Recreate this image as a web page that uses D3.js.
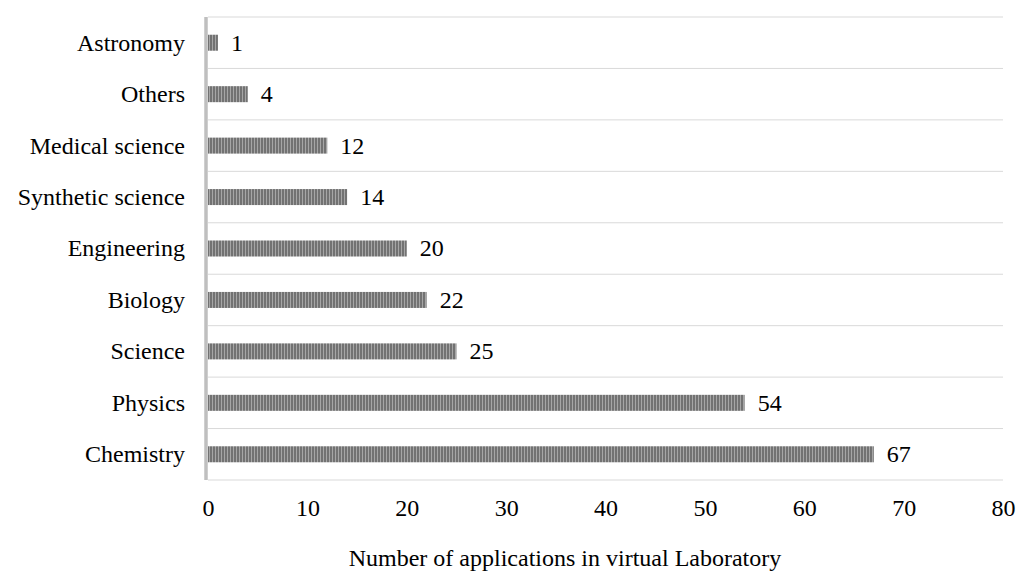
<!DOCTYPE html>
<html>
<head>
<meta charset="utf-8">
<script src="https://cdn.jsdelivr.net/npm/d3@7"></script>
<style>
body { margin: 0; background: #fff; }
text { font-family: "Liberation Serif", "DejaVu Serif", serif; fill: #000; }
</style>
</head>
<body>
<script>
//chart data
var categories = ["Astronomy", "Others", "Medical science", "Synthetic science", "Engineering", "Biology", "Science", "Physics", "Chemistry"];
var values = [1, 4, 12, 14, 20, 22, 25, 54, 67];
var xTicks = [0, 10, 20, 30, 40, 50, 60, 70, 80];
var xTitle = "Number of applications in virtual Laboratory";

var width = 1016, height = 571;
var plotLeft = 208, plotRight = 1003, plotTop = 17, plotBottom = 480;
var fontSize = 24;

var svg = d3.select("body").append("svg")
	.attr("width", width)
	.attr("height", height);

//striped fill for the bars
var pat = svg.append("defs").append("pattern")
	.attr("id", "stripes")
	.attr("patternUnits", "userSpaceOnUse")
	.attr("width", 3)
	.attr("height", 10);
pat.append("rect").attr("width", 3).attr("height", 10).attr("fill", "#727272");
pat.append("rect").attr("x", 2).attr("width", 1).attr("height", 10).attr("fill", "#a6a6a6");

var x = d3.scaleLinear().domain([0, 80]).range([plotLeft, plotRight]);
var y = d3.scaleBand().domain(categories).range([plotTop, plotBottom]);

//gridlines between categories
var gridYs = categories.map(function(c) { return y(c); }).concat([plotBottom]);
svg.append("g").selectAll("line").data(gridYs).enter()
	.append("line")
	.attr("x1", plotLeft)
	.attr("x2", plotRight)
	.attr("y1", function(d) { return d; })
	.attr("y2", function(d) { return d; })
	.attr("stroke", "#d9d9d9")
	.attr("stroke-width", 1);

//bars
var barH = 16;
svg.append("g").selectAll("rect").data(values).enter()
	.append("rect")
	.attr("x", x(0))
	.attr("y", function(d, i) { return y(categories[i]) + y.bandwidth() / 2 - barH / 2; })
	.attr("width", function(d) { return x(d) - x(0); })
	.attr("height", barH)
	.attr("fill", "url(#stripes)");

//value labels
svg.append("g").selectAll("text").data(values).enter()
	.append("text")
	.attr("x", function(d) { return x(d) + 13; })
	.attr("y", function(d, i) { return y(categories[i]) + y.bandwidth() / 2; })
	.attr("dy", "0.33em")
	.attr("font-size", fontSize)
	.text(function(d) { return d; });

//vertical axis line
svg.append("line")
	.attr("x1", plotLeft - 2).attr("x2", plotLeft - 2)
	.attr("y1", plotTop).attr("y2", plotBottom)
	.attr("stroke", "#bfbfbf")
	.attr("stroke-width", 3.5);

//category labels
svg.append("g").selectAll("text").data(categories).enter()
	.append("text")
	.attr("x", 185)
	.attr("y", function(d) { return y(d) + y.bandwidth() / 2; })
	.attr("dy", "0.33em")
	.attr("text-anchor", "end")
	.attr("font-size", fontSize)
	.text(function(d) { return d; });

//x axis
var xAxis = d3.axisBottom(x).tickValues(xTicks).tickSize(0).tickPadding(0);
var gx = svg.append("g")
	.attr("transform", "translate(0," + 516 + ")")
	.call(xAxis);
gx.select(".domain").remove();
gx.selectAll("text")
	.attr("font-size", fontSize)
	.attr("font-family", "Liberation Serif")
	.attr("fill", "#000")
	.attr("dy", 0);

//axis title
svg.append("text")
	.attr("x", 565)
	.attr("y", 566)
	.attr("text-anchor", "middle")
	.attr("font-size", fontSize)
	.text(xTitle);
</script>
</body>
</html>
